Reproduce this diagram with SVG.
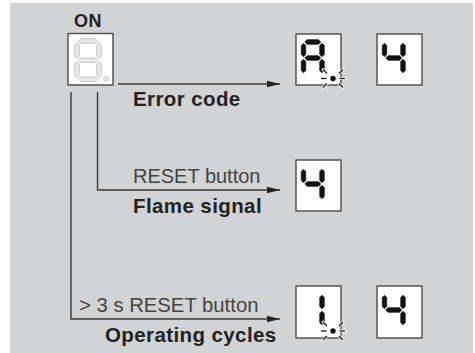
<svg xmlns="http://www.w3.org/2000/svg" xmlns:xlink="http://www.w3.org/1999/xlink" width="475" height="353" viewBox="0 0 475 353">
<style>
.bg{fill:#d2d3d5}
.box{fill:#fff;stroke:#4a4a4a;stroke-width:1.4}
.seg{fill:#111;stroke:#111;stroke-width:0.8;stroke-linejoin:round}
.ghost{fill:#e8e8e8;stroke:#c8c8c8;stroke-width:1;stroke-linejoin:round}
.conn{fill:none;stroke:#3a3a3a;stroke-width:1.4}
.bold{font-family:"Liberation Sans",Arial,sans-serif;font-weight:bold;fill:#222;letter-spacing:0.4px}
.reg{font-family:"Liberation Sans",Arial,sans-serif;fill:#444}
.rayw{stroke:#fff;stroke-width:3;stroke-linecap:round}
.rayb{stroke:#111;stroke-width:1.3;stroke-linecap:butt}
</style>
<defs>
<marker id="arr" markerUnits="userSpaceOnUse" viewBox="0 -4 14 8" markerWidth="14" markerHeight="8" refX="13" refY="0" orient="auto">
<path d="M0,-3.2 L13,0 L0,3.2 z" fill="#222"/>
</marker>
<polygon id="sa" points="8.8,8 11,5.8 22.5,5.8 24.7,8 22.5,10.2 11,10.2"/>
<polygon id="sg" points="8.8,24 11,21.8 22.5,21.8 24.7,24 22.5,26.2 11,26.2"/>
<polygon id="sf" points="7.5,9.3 9.7,11.5 9.7,20.5 7.5,22.7 5.3,20.5 5.3,11.5"/>
<polygon id="sb" points="26,9.3 28.2,11.5 28.2,20.5 26,22.7 23.8,20.5 23.8,11.5"/>
<polygon id="se" points="7.5,25.3 9.7,27.5 9.7,36.5 7.5,38.7 5.3,36.5 5.3,27.5"/>
<polygon id="sc" points="26,25.3 28.2,27.5 28.2,36.5 26,38.7 23.8,36.5 23.8,27.5"/>
<g id="d4" class="seg"><use xlink:href="#sf"/><use xlink:href="#sb"/><use xlink:href="#sg"/><use xlink:href="#sc"/></g>
<g id="dA" class="seg"><use xlink:href="#sa"/><use xlink:href="#sf"/><use xlink:href="#sb"/><use xlink:href="#sg"/><use xlink:href="#se"/><use xlink:href="#sc"/></g>
<g id="d1" class="seg"><use xlink:href="#sb"/><use xlink:href="#sc"/></g>
<g id="spark">
<g class="rayw">
<line x1="-6.5" y1="0" x2="-12" y2="0"/><line x1="6.5" y1="0" x2="12" y2="0"/>
<line x1="-6" y1="-5" x2="-10" y2="-9"/><line x1="6" y1="-5" x2="10" y2="-9"/>
<line x1="-6" y1="5" x2="-10" y2="9"/><line x1="6" y1="5" x2="10" y2="9"/>
</g>
<g class="rayb">
<line x1="-6.5" y1="0" x2="-12" y2="0"/><line x1="6.5" y1="0" x2="12" y2="0"/>
<line x1="-6" y1="-5" x2="-10" y2="-9"/><line x1="6" y1="-5" x2="10" y2="-9"/>
<line x1="-6" y1="5" x2="-10" y2="9"/><line x1="6" y1="5" x2="10" y2="9"/>
</g>
<circle r="3.3" fill="#fff"/>
<circle r="2.7" fill="#111"/>
</g>
</defs>
<rect class="bg" x="10" y="3" width="463" height="350"/>

<g id="on-display">
<text class="bold" x="88" y="27" font-size="18" text-anchor="middle">ON</text>
<rect class="box" x="68" y="33.5" width="45" height="51.5"/>
<g class="ghost" transform="translate(68,33.5)">
<polygon points="10.5,7.5 12.8,5.2 27.2,5.2 29.5,7.5 27.2,9.8 12.8,9.8"/>
<polygon points="10.5,26.7 12.8,24.4 27.2,24.4 29.5,26.7 27.2,29 12.8,29"/>
<polygon points="10.5,45.8 12.8,43.5 27.2,43.5 29.5,45.8 27.2,48.1 12.8,48.1"/>
<polygon points="9,9 11.3,11.3 11.3,22.9 9,25.2 6.7,22.9 6.7,11.3"/>
<polygon points="9,28.2 11.3,30.5 11.3,42 9,44.3 6.7,42 6.7,30.5"/>
<polygon points="31,9 33.3,11.3 33.3,22.9 31,25.2 28.7,22.9 28.7,11.3"/>
<polygon points="31,28.2 33.3,30.5 33.3,42 31,44.3 28.7,42 28.7,30.5"/>
<circle cx="38.3" cy="45" r="2.6"/>
</g>
</g>

<g id="connectors">
<path class="conn" d="M118,84 H280" marker-end="url(#arr)"/>
<path class="conn" d="M97.5,92 V190 H280" marker-end="url(#arr)"/>
<path class="conn" d="M71,92 V319 H280" marker-end="url(#arr)"/>
</g>

<g id="error-code">
<text class="bold" x="133" y="106" font-size="20.5">Error code</text>
<rect class="box" x="296" y="34" width="45" height="51"/>
<use xlink:href="#dA" x="296" y="34"/>
<use xlink:href="#spark" x="333" y="78.5"/>
<rect class="box" x="377" y="34" width="45" height="51"/>
<use xlink:href="#d4" x="377" y="34"/>
</g>

<g id="flame-signal">
<text class="reg" x="133" y="183" font-size="20">RESET button</text>
<text class="bold" x="133" y="213" font-size="20.5">Flame signal</text>
<rect class="box" x="296" y="160" width="45" height="51"/>
<use xlink:href="#d4" x="296" y="160"/>
</g>

<g id="operating-cycles">
<text class="reg" x="79" y="312" font-size="20.3">&gt; 3 s RESET button</text>
<text class="bold" x="105" y="342" font-size="20.5">Operating cycles</text>
<rect class="box" x="296" y="286" width="45" height="52"/>
<use xlink:href="#d1" x="296" y="286"/>
<use xlink:href="#spark" x="333" y="331"/>
<rect class="box" x="377" y="286" width="45" height="52"/>
<use xlink:href="#d4" x="377" y="286"/>
</g>
</svg>
